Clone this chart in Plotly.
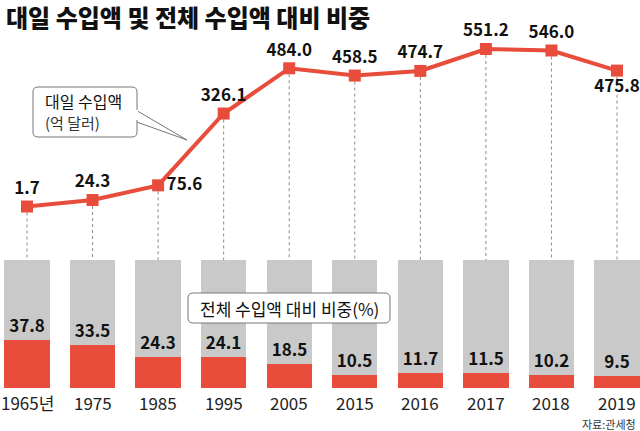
import plotly.graph_objects as go

# ---- data ----
years = ["1965년", "1975", "1985", "1995", "2005", "2015", "2016", "2017", "2018", "2019"]
import_from_japan = [1.7, 24.3, 75.6, 326.1, 484.0, 458.5, 474.7, 551.2, 546.0, 475.8]   # 억 달러
share_pct = [37.8, 33.5, 24.3, 24.1, 18.5, 10.5, 11.7, 11.5, 10.2, 9.5]                 # %
full_pct = [100] * len(years)

label_pos = ["top center", "top center", "middle right", "top center", "top center",
             "top center", "top center", "top center", "top center", "bottom center"]

RED = "#E84C3A"
GRAY = "#C9C9C9"
FONT = "Noto Sans CJK KR"
W, H = 640, 431

xs = list(range(len(years)))

def py(px):  # pixel row -> paper y
    return 1 - px / H
def pxx(px):
    return px / W

# line axis (y2): value 0 at px 207, 551.2 at px 49
k2 = (207 - 49) / 551.2
y2_top = 207 / k2
y2_bot = -(H - 207) / k2
# bar axis (y): 0 at px 388, 100 at px 260
k1 = (388 - 260) / 100
y1_top = 388 / k1
y1_bot = -(H - 388) / k1
bar_top_y2 = y2_top - 260 / H * (y2_top - y2_bot)

fig = go.Figure()

fig.add_trace(go.Bar(x=xs, y=full_pct, marker_color=GRAY, width=0.69, yaxis="y",
                     marker_line_width=0, hoverinfo="skip", showlegend=False))
fig.add_trace(go.Bar(x=xs, y=share_pct, marker_color=RED, width=0.69, yaxis="y",
                     marker_line_width=0,
                     text=[f"{v:.1f}" for v in share_pct], textposition="outside",
                     textfont=dict(family=FONT, size=17, color="#111", weight="bold"),
                     cliponaxis=False, showlegend=False))

# dotted guide lines from markers to bar tops
dx, dy = [], []
for x, v in zip(xs, import_from_japan):
    dx += [x, x, None]
    dy += [v, bar_top_y2, None]
fig.add_trace(go.Scatter(x=dx, y=dy, yaxis="y2", mode="lines",
                         line=dict(color="#8a8a8a", width=1, dash="dot"),
                         hoverinfo="skip", showlegend=False))

fig.add_trace(go.Scatter(x=xs, y=import_from_japan, yaxis="y2", mode="lines+markers+text",
                         line=dict(color=RED, width=4),
                         marker=dict(symbol="square", size=12, color=RED),
                         text=[f"{v:.1f}" for v in import_from_japan],
                         textposition=label_pos,
                         textfont=dict(family=FONT, size=17, color="#111", weight="bold"),
                         cliponaxis=False, showlegend=False))

px_per_unit = (617 - 27) / 9
x_lo = -27 / px_per_unit
x_hi = 9 + (W - 617) / px_per_unit

def rrect(x0, y0, x1, y1, r=5):
    rx, ry = r / W, r / H
    X0, X1 = pxx(x0), pxx(x1)
    Y0, Y1 = py(y0), py(y1)
    return (f"M {X0+rx},{Y0} L {X1-rx},{Y0} Q {X1},{Y0} {X1},{Y0-ry} "
            f"L {X1},{Y1+ry} Q {X1},{Y1} {X1-rx},{Y1} L {X0+rx},{Y1} "
            f"Q {X0},{Y1} {X0},{Y1+ry} L {X0},{Y0-ry} Q {X0},{Y0} {X0+rx},{Y0} Z")

shapes = [
    dict(type="path", xref="paper", yref="paper",
         path=f"M {pxx(134)},{py(109)} L {pxx(187)},{py(140)} L {pxx(134)},{py(121)} Z",
         fillcolor="white", line=dict(color="#777", width=1), layer="above"),
    dict(type="path", xref="paper", yref="paper", path=rrect(33, 87, 137, 137),
         fillcolor="white", line=dict(color="#777", width=1), layer="above"),
    dict(type="line", xref="paper", yref="paper", x0=pxx(137), x1=pxx(137), y0=py(110), y1=py(120),
         line=dict(color="white", width=2), layer="above"),
    dict(type="path", xref="paper", yref="paper", path=rrect(188, 293, 390, 323),
         fillcolor="white", line=dict(color="#777", width=1), layer="above"),
]

annotations = [
    dict(text="대일 수입액 및 전체 수입액 대비 비중", x=pxx(4), y=py(17), xref="paper", yref="paper",
         xanchor="left", yanchor="middle", showarrow=False,
         font=dict(family=FONT, size=24, color="#111", weight=900)),
    dict(text="대일 수입액", x=pxx(43), y=py(101), xref="paper", yref="paper",
         xanchor="left", yanchor="middle", showarrow=False,
         font=dict(family=FONT, size=16, color="#111")),
    dict(text="(억 달러)", x=pxx(43), y=py(123), xref="paper", yref="paper",
         xanchor="left", yanchor="middle", showarrow=False,
         font=dict(family=FONT, size=15, color="#333")),
    dict(text="전체 수입액 대비 비중(%)", x=pxx(289), y=py(308), xref="paper", yref="paper",
         xanchor="center", yanchor="middle", showarrow=False,
         font=dict(family=FONT, size=17, color="#111")),
    dict(text="자료:관세청", x=pxx(638), y=py(424), xref="paper", yref="paper",
         xanchor="right", yanchor="middle", showarrow=False,
         font=dict(family=FONT, size=11, color="#333")),
]
# year labels under bars
for x, lab in zip(xs, years):
    annotations.append(dict(text=lab, x=x, y=py(402), xref="x", yref="paper",
                            xanchor="center", yanchor="middle", showarrow=False,
                            font=dict(family=FONT, size=17, color="#222")))

fig.update_layout(
    width=W, height=H, autosize=False,
    margin=dict(l=0, r=0, t=0, b=0, pad=0),
    paper_bgcolor="white", plot_bgcolor="white",
    barmode="overlay", bargap=0,
    showlegend=False,
    xaxis=dict(range=[x_lo, x_hi], visible=False, fixedrange=True),
    yaxis=dict(domain=[0, 1], range=[y1_bot, y1_top], visible=False, fixedrange=True),
    yaxis2=dict(range=[y2_bot, y2_top], overlaying="y", visible=False, fixedrange=True),
    shapes=shapes, annotations=annotations,
)

fig.write_html("out.html", config={"displayModeBar": False},
               post_script="document.body.style.margin='0';document.body.style.overflow='hidden';")
